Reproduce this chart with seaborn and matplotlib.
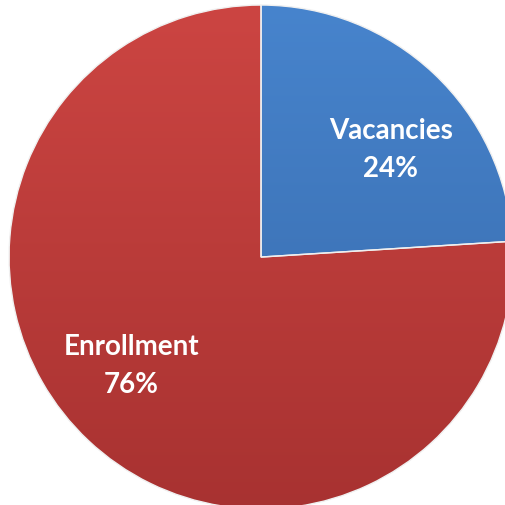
import matplotlib
matplotlib.use("Agg")
import matplotlib.pyplot as plt
import numpy as np
import seaborn as sns
from matplotlib.colors import LinearSegmentedColormap

# Data
labels = ["Vacancies", "Enrollment"]
shares = [24, 76]
colors = ["#3d78c0", "#c03d3b"]
# top / bottom shades for the soft gradient
shades = [("#4784cd", "#3668a8"), ("#cc4542", "#a83231")]

sns.set_theme(style="white")
plt.rcParams['font.family'] = ['Lato', 'DejaVu Sans']

fig = plt.figure(figsize=(5.05, 5.06), dpi=100)
ax = fig.add_axes([0, 0, 1, 1])

wedges, texts, autotexts = ax.pie(
    shares,
    colors=colors,
    startangle=90,
    counterclock=False,
    radius=1.0,
    autopct=lambda p: "",
    pctdistance=0.67,
    wedgeprops=dict(edgecolor="#f0f0f0", linewidth=1.0),
)

# vertical gradient fill clipped to each wedge
grad = np.linspace(0, 1, 256).reshape(-1, 1)
for w, (top, bot) in zip(wedges, shades):
    cmap = LinearSegmentedColormap.from_list("g", [top, bot])
    im = ax.imshow(grad, cmap=cmap, extent=(-1, 1, -1, 1), origin="upper",
                   aspect="auto", zorder=w.get_zorder() + 0.1)
    im.set_clip_path(w)
    w.set_facecolor("none")
    w.set_zorder(w.get_zorder() + 0.2)

# nudge labels round the centre a little, as the original places them
rot = np.deg2rad(-7)
for lab, val, t in zip(labels, shares, autotexts):
    x, y = t.get_position()
    t.set_position((x * np.cos(rot) - y * np.sin(rot), x * np.sin(rot) + y * np.cos(rot)))
    t.set_text(f"{lab}\n{val}%")
    t.set_color("white")
    t.set_fontsize(20)
    t.set_fontweight("bold")
    t.set_linespacing(1.55)
    t.set_zorder(10)

ax.set_xlim(-1.036, 0.968)
ax.set_ylim(-0.984, 1.024)
ax.set_aspect("equal")
ax.axis("off")

plt.savefig("out.png", dpi=100)
